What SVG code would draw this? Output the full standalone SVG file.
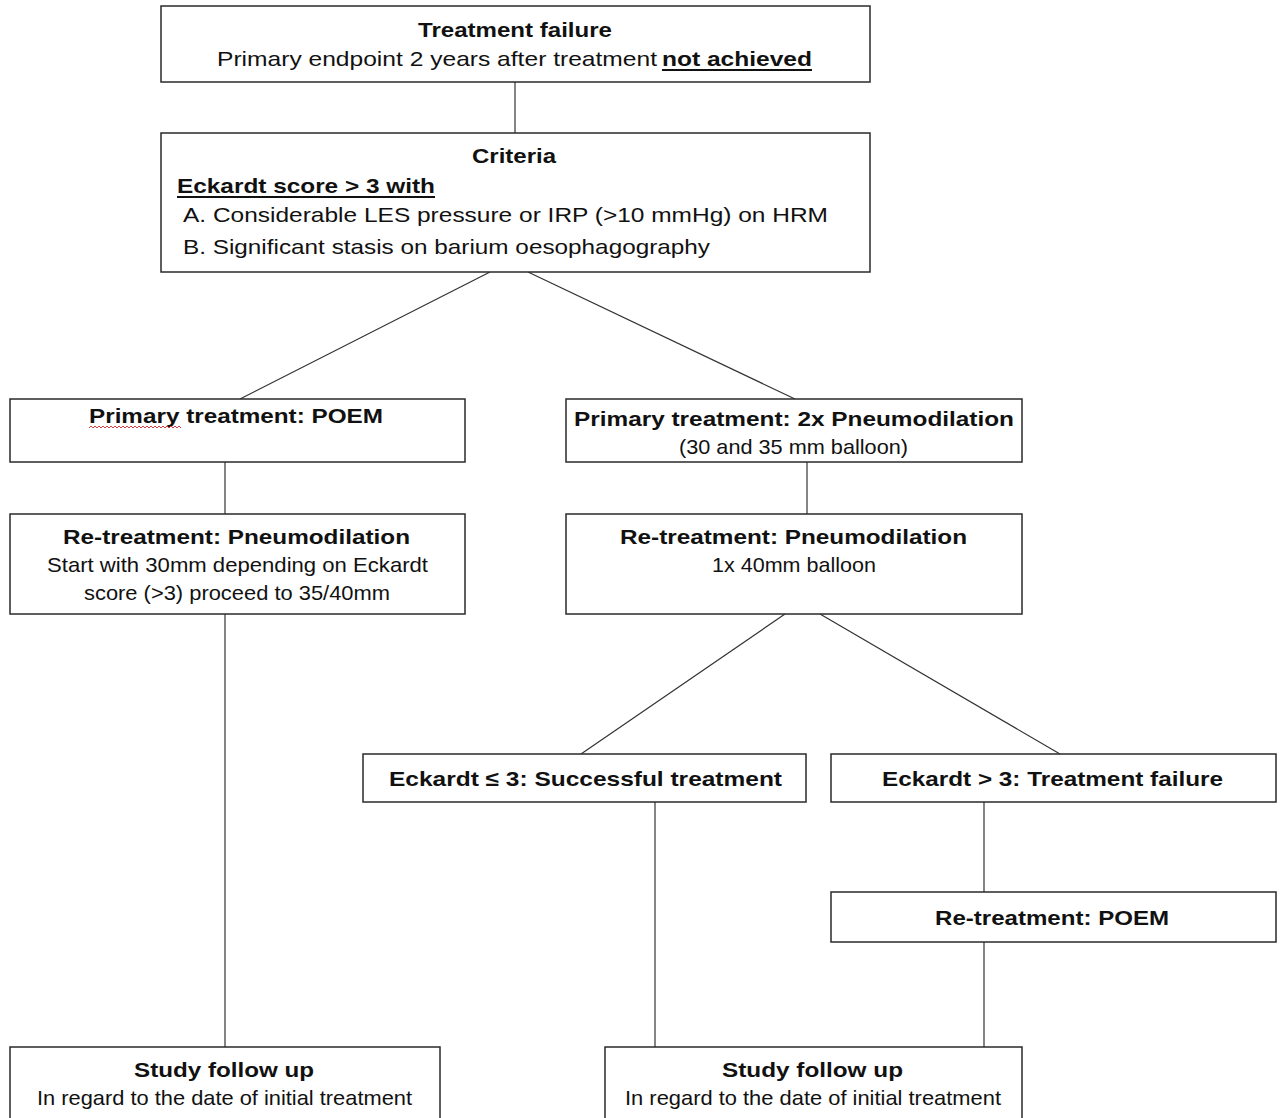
<svg xmlns="http://www.w3.org/2000/svg" width="1282" height="1118" viewBox="0 0 1282 1118">
<style>
.box{fill:#fff;stroke:#2a2a2a;stroke-width:1.5}
.c{stroke:#333;stroke-width:1.2;fill:none}
text{font-family:"Liberation Sans",Arial,sans-serif;font-size:21px;fill:#111}
.b{font-weight:bold}
.m{text-anchor:middle}
.u{stroke:#111;stroke-width:2}
</style>
<rect width="1282" height="1118" fill="#fff"/>
<g id="connectors">
<line class="c" x1="515" y1="82" x2="515" y2="133"/>
<line class="c" x1="490" y1="272" x2="240" y2="399"/>
<line class="c" x1="528" y1="272" x2="795" y2="399"/>
<line class="c" x1="225" y1="462" x2="225" y2="514"/>
<line class="c" x1="225" y1="614" x2="225" y2="1047"/>
<line class="c" x1="807" y1="462" x2="807" y2="514"/>
<line class="c" x1="785" y1="614" x2="581" y2="754"/>
<line class="c" x1="820" y1="614" x2="1060" y2="754"/>
<line class="c" x1="655" y1="802" x2="655" y2="1047"/>
<line class="c" x1="984" y1="802" x2="984" y2="892"/>
<line class="c" x1="984" y1="942" x2="984" y2="1047"/>
</g>
<g id="n-failure">
<rect class="box" x="161" y="6" width="709" height="76"/>
<text class="b m" x="515" y="37" textLength="194" lengthAdjust="spacingAndGlyphs">Treatment failure</text>
<text x="217" y="66" textLength="440" lengthAdjust="spacingAndGlyphs">Primary endpoint 2 years after treatment</text>
<text class="b" x="662" y="66" textLength="150" lengthAdjust="spacingAndGlyphs">not achieved</text>
<line class="u" x1="662" y1="70" x2="812" y2="70"/>
</g>
<g id="n-criteria">
<rect class="box" x="161" y="133" width="709" height="139"/>
<text class="b m" x="514" y="163" textLength="84" lengthAdjust="spacingAndGlyphs">Criteria</text>
<text class="b" x="177" y="193" textLength="258" lengthAdjust="spacingAndGlyphs">Eckardt score &gt; 3 with</text>
<line class="u" x1="177" y1="197" x2="435" y2="197"/>
<text x="183" y="222" textLength="645" lengthAdjust="spacingAndGlyphs">A. Considerable LES pressure or IRP (&gt;10 mmHg) on HRM</text>
<text x="183" y="254" textLength="527" lengthAdjust="spacingAndGlyphs">B. Significant stasis on barium oesophagography</text>
</g>
<g id="n-poem">
<rect class="box" x="10" y="399" width="455" height="63"/>
<text class="b" x="89" y="423" textLength="294" lengthAdjust="spacingAndGlyphs">Primary treatment: POEM</text>
<path d="M89,428 l2,-2 l2,2 l2,-2 l2,2 l2,-2 l2,2 l2,-2 l2,2 l2,-2 l2,2 l2,-2 l2,2 l2,-2 l2,2 l2,-2 l2,2 l2,-2 l2,2 l2,-2 l2,2 l2,-2 l2,2 l2,-2 l2,2 l2,-2 l2,2 l2,-2 l2,2 l2,-2 l2,2 l2,-2 l2,2 l2,-2 l2,2 l2,-2 l2,2 l2,-2 l2,2 l2,-2 l2,2 l2,-2 l2,2 l2,-2 l2,2 l2,-2 l2,2" fill="none" stroke="#d04040" stroke-width="1"/>
</g>
<g id="n-retreat-left">
<rect class="box" x="10" y="514" width="455" height="100"/>
<text class="b" x="63" y="544" textLength="347" lengthAdjust="spacingAndGlyphs">Re-treatment: Pneumodilation</text>
<text x="47" y="572" textLength="381" lengthAdjust="spacingAndGlyphs">Start with 30mm depending on Eckardt</text>
<text x="84" y="600" textLength="306" lengthAdjust="spacingAndGlyphs">score (&gt;3) proceed to 35/40mm</text>
</g>
<g id="n-pd">
<rect class="box" x="566" y="399" width="456" height="63"/>
<text class="b" x="574" y="426" textLength="440" lengthAdjust="spacingAndGlyphs">Primary treatment: 2x Pneumodilation</text>
<text x="679" y="454" textLength="229" lengthAdjust="spacingAndGlyphs">(30 and 35 mm balloon)</text>
</g>
<g id="n-retreat-right">
<rect class="box" x="566" y="514" width="456" height="100"/>
<text class="b" x="620" y="544" textLength="347" lengthAdjust="spacingAndGlyphs">Re-treatment: Pneumodilation</text>
<text x="712" y="572" textLength="164" lengthAdjust="spacingAndGlyphs">1x 40mm balloon</text>
</g>
<g id="n-success">
<rect class="box" x="363" y="754" width="443" height="48"/>
<text class="b" x="389" y="786" textLength="393" lengthAdjust="spacingAndGlyphs">Eckardt ≤ 3: Successful treatment</text>
</g>
<g id="n-fail2">
<rect class="box" x="831" y="754" width="445" height="48"/>
<text class="b" x="882" y="786" textLength="341" lengthAdjust="spacingAndGlyphs">Eckardt &gt; 3: Treatment failure</text>
</g>
<g id="n-retreat-poem">
<rect class="box" x="831" y="892" width="445" height="50"/>
<text class="b" x="935" y="925" textLength="234" lengthAdjust="spacingAndGlyphs">Re-treatment: POEM</text>
</g>
<g id="n-follow-left">
<rect class="box" x="10" y="1047" width="430" height="90"/>
<text class="b" x="134" y="1077" textLength="180" lengthAdjust="spacingAndGlyphs">Study follow up</text>
<text x="37" y="1105" textLength="375" lengthAdjust="spacingAndGlyphs">In regard to the date of initial treatment</text>
</g>
<g id="n-follow-right">
<rect class="box" x="605" y="1047" width="417" height="90"/>
<text class="b" x="722" y="1077" textLength="181" lengthAdjust="spacingAndGlyphs">Study follow up</text>
<text x="625" y="1105" textLength="376" lengthAdjust="spacingAndGlyphs">In regard to the date of initial treatment</text>
</g>
</svg>
